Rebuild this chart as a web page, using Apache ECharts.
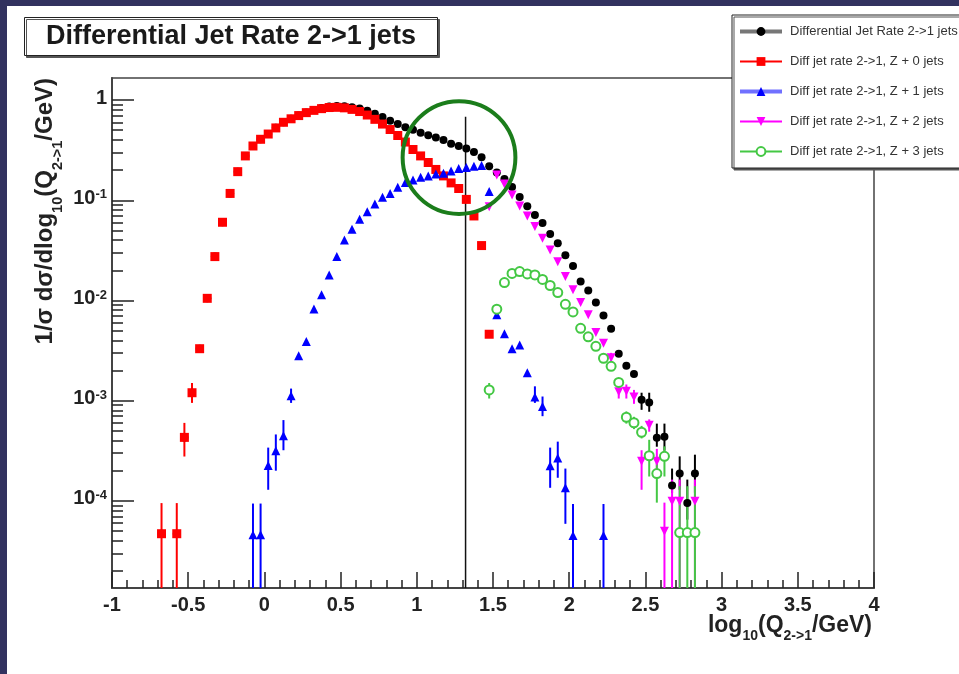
<!DOCTYPE html>
<html>
<head>
<meta charset="utf-8">
<script src="https://cdn.jsdelivr.net/npm/echarts@6/dist/echarts.min.js"></script>
<style>
  html, body { margin: 0; padding: 0; background: #fff; }
  #chart { width: 959px; height: 674px; }
</style>
</head>
<body>
<div id="chart"></div>
<script>
// Bin centres in log10(Q_{2->1}/GeV), bin width 0.05
const BINS = [
  -0.675, -0.625, -0.575, -0.525, -0.475, -0.425, -0.375, -0.325, -0.275, -0.225,
  -0.175, -0.125, -0.075, -0.025, 0.025, 0.075, 0.125, 0.175, 0.225, 0.275,
  0.325, 0.375, 0.425, 0.475, 0.525, 0.575, 0.625, 0.675, 0.725, 0.775,
  0.825, 0.875, 0.925, 0.975, 1.025, 1.075, 1.125, 1.175, 1.225, 1.275,
  1.325, 1.375, 1.425, 1.475, 1.525, 1.575, 1.625, 1.675, 1.725, 1.775,
  1.825, 1.875, 1.925, 1.975, 2.025, 2.075, 2.125, 2.175, 2.225, 2.275,
  2.325, 2.375, 2.425, 2.475, 2.525, 2.575, 2.625, 2.675, 2.725, 2.775,
  2.825
];

// Normalised rate per bin (null = empty bin)
const RATE_TOTAL = [
  4.7e-5, null, 4.7e-5, 4.3e-4, 1.2e-3, 3.3e-3, 0.0105, 0.0274, 0.0603, 0.117,
  0.193, 0.277, 0.348, 0.406, 0.458, 0.528, 0.601, 0.651, 0.703, 0.753,
  0.797, 0.832, 0.860, 0.872, 0.868, 0.850, 0.822, 0.780, 0.728, 0.676,
  0.622, 0.578, 0.535, 0.505, 0.472, 0.446, 0.424, 0.400, 0.366, 0.348,
  0.328, 0.303, 0.268, 0.218, 0.189, 0.163, 0.136, 0.108, 0.0871, 0.0713,
  0.0594, 0.0461, 0.0373, 0.0283, 0.0221, 0.0155, 0.0126, 9.55e-3, 7.08e-3, 5.21e-3,
  2.94e-3, 2.23e-3, 1.85e-3, 1.02e-3, 9.6e-4, 4.27e-4, 4.37e-4, 1.42e-4, 1.87e-4, 9.5e-5,
  1.87e-4
];
const RATE_Z0 = [
  4.7e-5, null, 4.7e-5, 4.3e-4, 1.2e-3, 3.3e-3, 0.0105, 0.0274, 0.0603, 0.117,
  0.193, 0.277, 0.348, 0.406, 0.458, 0.527, 0.600, 0.650, 0.700, 0.749,
  0.789, 0.821, 0.842, 0.846, 0.836, 0.807, 0.768, 0.709, 0.642, 0.576,
  0.508, 0.443, 0.381, 0.321, 0.277, 0.238, 0.203, 0.175, 0.149, 0.131,
  0.102, 0.0697, 0.0353, 4.6e-3, null, null, null, null, null, null,
  null, null, null, null, null, null, null, null, null, null,
  null, null, null, null, null, null, null, null, null, null,
  null
];
const RATE_Z1 = [
  null, null, null, null, null, null, null, null, null, null,
  null, null, 4.6e-5, 4.6e-5, 2.26e-4, 3.16e-4, 4.47e-4, 1.12e-3, 2.8e-3, 3.9e-3,
  8.2e-3, 0.0114, 0.018, 0.0274, 0.0402, 0.0513, 0.0646, 0.077, 0.092, 0.107,
  0.117, 0.135, 0.150, 0.159, 0.170, 0.175, 0.183, 0.186, 0.196, 0.208,
  0.212, 0.218, 0.222, 0.122, 7.2e-3, 4.65e-3, 3.3e-3, 3.6e-3, 1.9e-3, 1.09e-3,
  8.75e-4, 2.24e-4, 2.68e-4, 1.35e-4, 4.5e-5, null, null, null, 4.5e-5, null,
  null, null, null, null, null, null, null, null, null, null,
  null
];
const RATE_Z2 = [
  null, null, null, null, null, null, null, null, null, null,
  null, null, null, null, null, null, null, null, null, null,
  null, null, null, null, null, null, null, null, null, null,
  null, null, null, null, null, null, null, null, null, null,
  null, null, null, 0.0863, 0.179, 0.145, 0.113, 0.0877, 0.0697, 0.0546,
  0.0418, 0.0319, 0.0244, 0.0173, 0.0128, 9.53e-3, 7.18e-3, 4.79e-3, 3.75e-3, 2.68e-3,
  1.23e-3, 1.24e-3, 1.09e-3, 2.48e-4, 5.69e-4, 2.48e-4, 4.96e-5, 9.9e-5, 9.9e-5, null,
  9.9e-5
];
const RATE_Z3 = [
  null, null, null, null, null, null, null, null, null, null,
  null, null, null, null, null, null, null, null, null, null,
  null, null, null, null, null, null, null, null, null, null,
  null, null, null, null, null, null, null, null, null, null,
  null, null, null, 1.28e-3, 8.18e-3, 0.0151, 0.0186, 0.0194, 0.0184, 0.018,
  0.0162, 0.0141, 0.012, 9.14e-3, 7.69e-3, 5.27e-3, 4.34e-3, 3.49e-3, 2.65e-3, 2.2e-3,
  1.52e-3, 6.83e-4, 6.02e-4, 4.84e-4, 2.82e-4, 1.87e-4, 2.78e-4, null, 4.82e-5, 4.82e-5,
  4.82e-5
];

// Error bars: [bin centre, lower edge, upper edge]; lower edge 0 = runs off the axis
const ERR_TOTAL = [
  [2.475, 8.1e-4, 1.2e-3], [2.525, 7.75e-4, 1.2e-3], [2.575, 3.47e-4, 5.9e-4],
  [2.625, 3.17e-4, 5.9e-4], [2.675, 1.2e-4, 2.1e-4], [2.725, 1.29e-4, 2.78e-4],
  [2.775, 6.5e-5, 1.63e-4], [2.825, 1.21e-4, 2.89e-4]
];
const ERR_Z0 = [
  [-0.675, 0, 9.5e-5], [-0.575, 0, 9.5e-5], [-0.525, 2.77e-4, 6.0e-4], [-0.475, 9.5e-4, 1.5e-3]
];
const ERR_Z1 = [
  [-0.075, 0, 9.4e-5], [-0.025, 0, 9.4e-5], [0.025, 1.29e-4, 3.4e-4], [0.075, 2.0e-4, 4.6e-4],
  [0.125, 3.2e-4, 6.4e-4], [0.175, 9.5e-4, 1.32e-3], [1.775, 9.5e-4, 1.39e-3],
  [1.825, 7.0e-4, 1.1e-3], [1.875, 1.35e-4, 3.4e-4], [1.925, 1.7e-4, 3.9e-4],
  [1.975, 5.9e-5, 2.1e-4], [2.025, 0, 9.3e-5], [2.225, 0, 9.3e-5]
];
const ERR_Z2 = [
  [2.275, 2.4e-3, 3.0e-3], [2.325, 1.05e-3, 1.4e-3], [2.375, 1.05e-3, 1.45e-3],
  [2.425, 9.3e-4, 1.28e-3], [2.475, 1.29e-4, 3.2e-4], [2.525, 4.9e-4, 6.5e-4],
  [2.575, 1.75e-4, 3.3e-4], [2.625, 0, 9.6e-5], [2.675, 0, 1.63e-4],
  [2.725, 0, 1.63e-4], [2.825, 0, 1.63e-4]
];
const ERR_Z3 = [
  [1.475, 1.05e-3, 1.5e-3], [2.375, 5.9e-4, 7.8e-4], [2.425, 5.2e-4, 6.9e-4],
  [2.475, 4.2e-4, 5.6e-4], [2.525, 1.75e-4, 4.07e-4], [2.575, 9.6e-5, 2.4e-4],
  [2.625, 1.75e-4, 3.5e-4], [2.725, 0, 1.4e-4], [2.775, 0, 1.4e-4], [2.825, 0, 1.4e-4]
];

const SERIES_NAMES = [
  'Differential Jet Rate 2->1 jets',
  'Diff jet rate 2->1, Z + 0 jets',
  'Diff jet rate 2->1, Z + 1 jets',
  'Diff jet rate 2->1, Z + 2 jets',
  'Diff jet rate 2->1, Z + 3 jets'
];
const TITLE = 'Differential Jet Rate 2->1 jets';

// Axis ranges and the Q cut marker
const X_MIN = -1, X_MAX = 4;
const Y_MIN = 1.35e-5, Y_MAX = 1.66;
const Y_MAJOR = [1e-4, 1e-3, 1e-2, 1e-1, 1];
const CUT_X = 1.32, CUT_TOP = 0.68;
const RING_X = 1.277, RING_Y = 0.267, RING_R = 0.37;

const FONT = "'Liberation Sans', Arial, Helvetica, sans-serif";

// Minor log ticks 2..9 in every decade inside the axis range
const Y_MINOR = [];
for (let e = -5; e <= 0; e++) {
  for (let m = 2; m <= 9; m++) {
    const v = m * Math.pow(10, e);
    if (v > Y_MIN && v < Y_MAX) Y_MINOR.push(v);
  }
}

const pts = vals => BINS.map((x, i) => [x, vals[i]]).filter(p => p[1] != null);

function errorBar(params, api) {
  const x = api.value(0);
  const lo = api.value(1);
  const hi = api.value(2);
  const top = api.coord([x, Math.min(hi, Y_MAX)]);
  const bot = api.coord([x, lo > Y_MIN ? lo : Y_MIN]);
  return {
    type: 'line',
    shape: { x1: top[0], y1: top[1], x2: bot[0], y2: bot[1] },
    style: { stroke: api.visual('color'), lineWidth: 2 }
  };
}

function errSeries(data, color) {
  return {
    type: 'custom', data: data, renderItem: errorBar,
    encode: { x: 0, y: 2 }, itemStyle: { color: color },
    silent: true, animation: false
  };
}

function markSeries(name, vals, symbol, size, color, extra) {
  return Object.assign({
    type: 'line', name: name, data: pts(vals),
    symbol: symbol, symbolSize: size, showSymbol: true,
    itemStyle: { color: color, opacity: 1 },
    lineStyle: { width: 0, opacity: 0 },
    silent: true, animation: false
  }, extra || {});
}

const chart = echarts.init(document.getElementById('chart'), null, { renderer: 'canvas' });

const supRich = {
  b: { fontSize: 20, fontWeight: 'bold', fontFamily: FONT, color: '#222', lineHeight: 24, verticalAlign: 'top' },
  s: { fontSize: 13, fontWeight: 'bold', fontFamily: FONT, color: '#222', lineHeight: 10, verticalAlign: 'top' }
};
function axisTitleRich(main, sub, drop) {
  return {
    m: { fontSize: main, fontWeight: 'bold', fontFamily: FONT, fill: '#222', color: '#222', lineHeight: main + 3, verticalAlign: 'top' },
    s: { fontSize: sub, fontWeight: 'bold', fontFamily: FONT, fill: '#222', color: '#222', lineHeight: sub, verticalAlign: 'top', padding: [drop, 0, 0, 0] }
  };
}

const option = {
  backgroundColor: '#fff',
  animation: false,
  title: {
    text: TITLE,
    left: 24, top: 17,
    padding: [6, 22, 6, 22],
    backgroundColor: '#fff',
    borderColor: '#222', borderWidth: 1,
    shadowColor: '#555', shadowOffsetX: 2, shadowOffsetY: 2, shadowBlur: 0,
    textStyle: { fontFamily: FONT, fontSize: 27, fontWeight: 'bold', color: '#1a1a1a' }
  },
  legend: {
    left: 732, top: 15,
    orient: 'vertical',
    padding: [10, 20, 10, 6],
    itemGap: 17, itemWidth: 42, itemHeight: 11,
    backgroundColor: '#fff',
    borderColor: '#222', borderWidth: 1,
    shadowColor: '#555', shadowOffsetX: 2, shadowOffsetY: 2, shadowBlur: 0,
    selectedMode: false,
    textStyle: { fontFamily: FONT, fontSize: 13, color: '#333', lineHeight: 13, padding: [0, 0, 0, 3] },
    data: [
      { name: SERIES_NAMES[0], lineStyle: { color: '#777', width: 4, opacity: 1, type: 'solid' } },
      { name: SERIES_NAMES[1], lineStyle: { color: '#ff0000', width: 2, opacity: 1, type: 'solid' } },
      { name: SERIES_NAMES[2], lineStyle: { color: '#7070ff', width: 4, opacity: 1, type: 'solid' } },
      { name: SERIES_NAMES[3], lineStyle: { color: '#ff00ff', width: 2, opacity: 1, type: 'solid' } },
      { name: SERIES_NAMES[4], lineStyle: { color: '#44c844', width: 2, opacity: 1, type: 'solid' } }
    ]
  },
  grid: {
    left: 112, right: 85, top: 78, bottom: 86,
    show: true, borderColor: '#444', borderWidth: 1.5, backgroundColor: '#fff'
  },
  xAxis: {
    type: 'value', min: X_MIN, max: X_MAX, interval: 0.5,
    axisLine: { show: true, onZero: false, lineStyle: { color: '#444', width: 2 } },
    axisTick: { show: true, inside: true, length: 16, lineStyle: { color: '#222', width: 1.5 } },
    minorTick: { show: true, splitNumber: 5, length: 8, lineStyle: { color: '#222', width: 1.5 } },
    splitLine: { show: false },
    axisLabel: { margin: 7, fontFamily: FONT, fontSize: 20, fontWeight: 'bold', color: '#222' }
  },
  yAxis: [
    {
      type: 'log', logBase: 10, min: Y_MIN, max: Y_MAX, position: 'left',
      axisLine: { show: true, onZero: false, lineStyle: { color: '#444', width: 2 } },
      axisTick: { show: true, inside: true, length: 22, customValues: Y_MAJOR, lineStyle: { color: '#222', width: 1.5 } },
      splitLine: { show: false },
      axisLabel: {
        margin: 5,
        customValues: Y_MAJOR,
        formatter: function (v) {
          const e = Math.round(Math.log10(v));
          return e === 0 ? '{b|1}' : '{b|10}{s|' + e + '}';
        },
        rich: supRich
      }
    },
    {
      type: 'log', logBase: 10, min: Y_MIN, max: Y_MAX, position: 'left', offset: 0,
      axisLine: { show: false, onZero: false },
      axisTick: { show: true, inside: true, length: 11, customValues: Y_MINOR, lineStyle: { color: '#222', width: 1.5 } },
      axisLabel: { show: false },
      splitLine: { show: false }
    }
  ],
  series: [
    errSeries(ERR_TOTAL, '#000'),
    markSeries(SERIES_NAMES[0], RATE_TOTAL, 'circle', 8, '#000'),
    errSeries(ERR_Z0, '#ff0000'),
    markSeries(SERIES_NAMES[1], RATE_Z0, 'rect', 9, '#ff0000'),
    errSeries(ERR_Z1, '#0000ff'),
    markSeries(SERIES_NAMES[2], RATE_Z1, 'triangle', 9, '#0000ff'),
    errSeries(ERR_Z2, '#ff00ff'),
    markSeries(SERIES_NAMES[3], RATE_Z2, 'triangle', 9, '#ff00ff', { symbolRotate: 180 }),
    errSeries(ERR_Z3, '#44c844'),
    markSeries(SERIES_NAMES[4], RATE_Z3, 'emptyCircle', 9, '#44c844', { itemStyle: { color: '#44c844', borderWidth: 1.5 } }),
    {
      type: 'line', name: 'Q cut',
      data: [[CUT_X, CUT_TOP], [CUT_X, Y_MIN]],
      symbol: 'none', silent: true, animation: false,
      lineStyle: { color: '#111', width: 1.5 }
    }
  ],
  graphic: [
    { type: 'rect', shape: { x: 0, y: 0, width: 959, height: 6 }, style: { fill: '#32325f' }, silent: true },
    { type: 'rect', shape: { x: 0, y: 0, width: 7, height: 674 }, style: { fill: '#32325f' }, silent: true },
    {
      type: 'text', x: 33, y: 78, rotation: Math.PI / 2, silent: true,
      style: {
        text: '{m|1/σ dσ/dlog}{s|10}{m|(Q}{s|2->1}{m|/GeV)}',
        rich: axisTitleRich(24, 14.5, 17), align: 'right', verticalAlign: 'top', fill: '#222'
      }
    },
    {
      type: 'text', x: 872, y: 614, silent: true,
      style: {
        text: '{m|log}{s|10}{m|(Q}{s|2->1}{m|/GeV)}',
        rich: axisTitleRich(23, 14, 15), align: 'right', verticalAlign: 'top', fill: '#222'
      }
    }
  ]
};

chart.setOption(option);

// Highlight ring around the transition region, placed in data coordinates
const ctr = chart.convertToPixel({ xAxisIndex: 0, yAxisIndex: 0 }, [RING_X, RING_Y]);
const edge = chart.convertToPixel({ xAxisIndex: 0, yAxisIndex: 0 }, [RING_X + RING_R, RING_Y]);
chart.setOption({
  graphic: [
    {
      id: 'ring', type: 'circle', silent: true, z: 100,
      shape: { cx: ctr[0], cy: ctr[1], r: edge[0] - ctr[0] },
      style: { fill: 'none', stroke: '#1b7d1b', lineWidth: 4 }
    }
  ]
});
</script>
</body>
</html>
